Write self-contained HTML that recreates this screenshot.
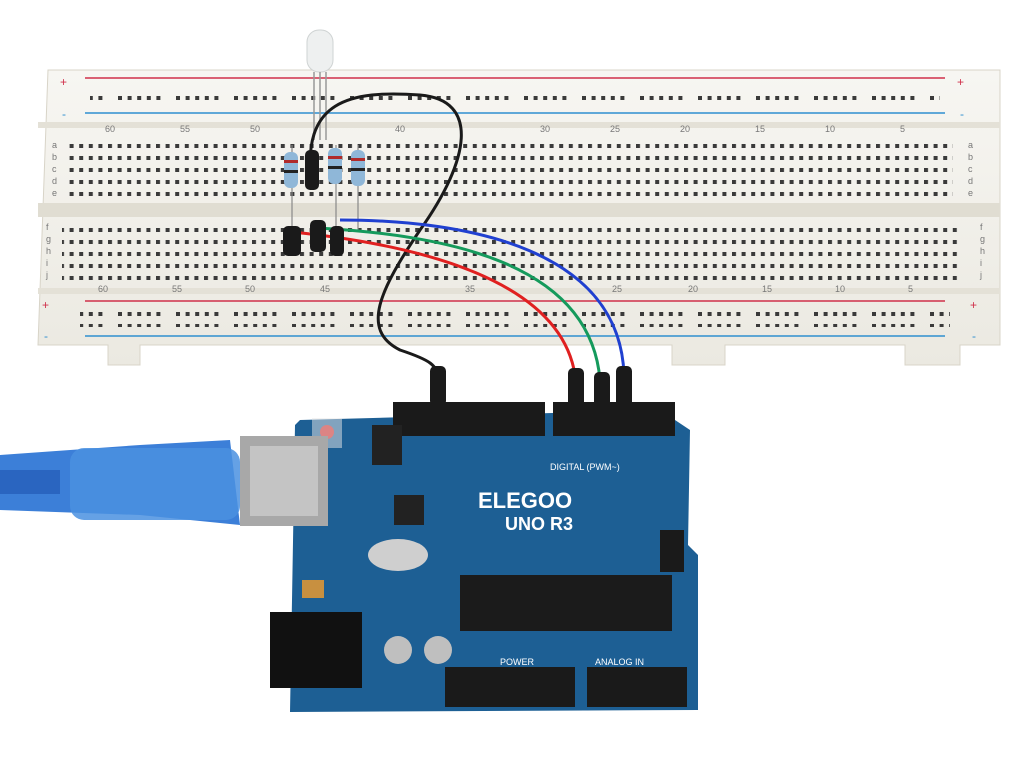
<!DOCTYPE html>
<html><head><meta charset="utf-8"><style>
html,body{margin:0;padding:0;background:#fff;}
svg{display:block}
</style></head><body>
<svg width="1024" height="757" viewBox="0 0 1024 757" xmlns="http://www.w3.org/2000/svg" font-family="Liberation Sans, sans-serif">
<defs>
<pattern id="h5" x="60" y="0" width="58" height="12" patternUnits="userSpaceOnUse">
<rect x="0" y="0" width="4" height="4" fill="#3a3a3a"/><rect x="9.6" y="0" width="4" height="4" fill="#3a3a3a"/><rect x="19.2" y="0" width="4" height="4" fill="#3a3a3a"/><rect x="28.8" y="0" width="4" height="4" fill="#3a3a3a"/><rect x="38.4" y="0" width="4" height="4" fill="#3a3a3a"/>
</pattern>
<pattern id="hm" x="60" y="0" width="9.6" height="12" patternUnits="userSpaceOnUse">
<rect x="0" y="0" width="4" height="4" fill="#3a3a3a"/>
</pattern>
<linearGradient id="bb" x1="0" y1="0" x2="0" y2="1"><stop offset="0" stop-color="#f7f6f2"/><stop offset="1" stop-color="#ebe9e1"/></linearGradient>
</defs>
<path d="M48 70 L1000 70 L1000 345 L960 345 L960 365 L905 365 L905 345 L725 345 L725 365 L672 365 L672 345 L140 345 L140 365 L108 365 L108 345 L38 345 Z" fill="url(#bb)" stroke="#d8d4c8"/>
<rect x="38" y="122" width="962" height="6" fill="#e4e1d7"/>
<rect x="38" y="203" width="962" height="14" fill="#e0ddd2"/>
<rect x="38" y="288" width="962" height="6" fill="#e4e1d7"/>
<line x1="85" y1="78" x2="945" y2="78" stroke="#d0304a" stroke-width="1.5"/>
<line x1="85" y1="113" x2="945" y2="113" stroke="#2f8fd0" stroke-width="1.5"/>
<line x1="85" y1="301" x2="945" y2="301" stroke="#d0304a" stroke-width="1.5"/>
<line x1="85" y1="336" x2="945" y2="336" stroke="#2f8fd0" stroke-width="1.5"/>
<text x="60" y="86" fill="#d0304a" font-size="12">+</text><text x="957" y="86" fill="#d0304a" font-size="12">+</text>
<text x="62" y="118" fill="#2f8fd0" font-size="12">-</text><text x="960" y="118" fill="#2f8fd0" font-size="12">-</text>
<text x="42" y="309" fill="#d0304a" font-size="12">+</text><text x="970" y="309" fill="#d0304a" font-size="12">+</text>
<text x="44" y="340" fill="#2f8fd0" font-size="12">-</text><text x="972" y="340" fill="#2f8fd0" font-size="12">-</text>
<rect x="90" y="90" width="850" height="16" fill="url(#h5)"/>
<rect x="80" y="311" width="870" height="16" fill="url(#h5)"/>
<rect x="68" y="136" width="885" height="60" fill="url(#hm)"/>
<rect x="62" y="222" width="900" height="62" fill="url(#hm)"/>
<g font-size="9" fill="#777">
<text x="52" y="148">a</text><text x="52" y="160">b</text><text x="52" y="172">c</text><text x="52" y="184">d</text><text x="52" y="196">e</text>
<text x="968" y="148">a</text><text x="968" y="160">b</text><text x="968" y="172">c</text><text x="968" y="184">d</text><text x="968" y="196">e</text>
<text x="46" y="230">f</text><text x="46" y="242">g</text><text x="46" y="254">h</text><text x="46" y="266">i</text><text x="46" y="278">j</text>
<text x="980" y="230">f</text><text x="980" y="242">g</text><text x="980" y="254">h</text><text x="980" y="266">i</text><text x="980" y="278">j</text>
<text x="105" y="132">60</text><text x="180" y="132">55</text><text x="250" y="132">50</text><text x="395" y="132">40</text><text x="540" y="132">30</text><text x="610" y="132">25</text><text x="680" y="132">20</text><text x="755" y="132">15</text><text x="825" y="132">10</text><text x="900" y="132">5</text>
<text x="98" y="292">60</text><text x="172" y="292">55</text><text x="245" y="292">50</text><text x="320" y="292">45</text><text x="465" y="292">35</text><text x="612" y="292">25</text><text x="688" y="292">20</text><text x="762" y="292">15</text><text x="835" y="292">10</text><text x="908" y="292">5</text>
</g>
<rect x="307" y="30" width="26" height="42" rx="12" fill="#eef0f0" stroke="#cfd3d3"/>
<line x1="314" y1="72" x2="314" y2="140" stroke="#999" stroke-width="1.5"/>
<line x1="320" y1="72" x2="320" y2="140" stroke="#999" stroke-width="1.5"/>
<line x1="326" y1="72" x2="326" y2="140" stroke="#999" stroke-width="1.5"/>
<g stroke="#888" stroke-width="1.2">
<line x1="292" y1="145" x2="292" y2="232"/><line x1="336" y1="145" x2="336" y2="230"/><line x1="358" y1="145" x2="358" y2="232"/>
</g>
<rect x="284" y="152" width="14" height="36" rx="6" fill="#8fb7d8"/>
<rect x="328" y="148" width="14" height="36" rx="6" fill="#8fb7d8"/>
<rect x="351" y="150" width="14" height="36" rx="6" fill="#8fb7d8"/>
<g fill="#b02a2a"><rect x="284" y="160" width="14" height="3"/><rect x="328" y="156" width="14" height="3"/><rect x="351" y="158" width="14" height="3"/><rect x="284" y="170" width="14" height="3" fill="#222"/><rect x="328" y="166" width="14" height="3" fill="#222"/><rect x="351" y="168" width="14" height="3" fill="#222"/></g>
<path d="M312 185 C300 100 350 90 420 95 C480 100 470 160 420 230 C380 290 360 330 400 350 C430 360 438 365 438 380" fill="none" stroke="#1a1a1a" stroke-width="3"/>
<rect x="305" y="150" width="14" height="40" rx="5" fill="#1a1a1a"/>
<path d="M292 232 C420 245 560 280 575 375" fill="none" stroke="#e02020" stroke-width="3"/>
<path d="M318 228 C440 235 590 260 600 380" fill="none" stroke="#159a5c" stroke-width="3"/>
<path d="M340 220 C470 220 620 250 624 375" fill="none" stroke="#2040d0" stroke-width="3"/>
<g fill="#1a1a1a"><rect x="283" y="226" width="18" height="30" rx="5"/><rect x="310" y="220" width="16" height="32" rx="5"/><rect x="330" y="226" width="14" height="30" rx="5"/>
<rect x="430" y="366" width="16" height="40" rx="5"/><rect x="568" y="368" width="16" height="42" rx="5"/><rect x="594" y="372" width="16" height="40" rx="5"/><rect x="616" y="366" width="16" height="42" rx="5"/></g>
<path d="M300 420 L660 410 L690 430 L688 545 L698 555 L698 710 L290 712 L292 600 L295 425 Z" fill="#1d5f94"/>
<rect x="393" y="402" width="152" height="34" fill="#1a1a1a"/>
<rect x="553" y="402" width="122" height="34" fill="#1a1a1a"/>
<rect x="445" y="667" width="130" height="40" fill="#1a1a1a"/>
<rect x="587" y="667" width="100" height="40" fill="#1a1a1a"/>
<rect x="460" y="575" width="212" height="56" fill="#1b1b1b"/>
<rect x="660" y="530" width="24" height="42" fill="#1a1a1a"/>
<rect x="372" y="425" width="30" height="40" fill="#222"/>
<rect x="394" y="495" width="30" height="30" fill="#222"/>
<ellipse cx="398" cy="555" rx="30" ry="16" fill="#cfcfcf"/>
<circle cx="398" cy="650" r="14" fill="#bfbfbf"/><circle cx="438" cy="650" r="14" fill="#bfbfbf"/>
<rect x="302" y="580" width="22" height="18" fill="#c89040"/>
<rect x="270" y="612" width="92" height="76" fill="#111"/>
<circle cx="327" cy="432" r="7" fill="#d02020"/>
<rect x="312" y="418" width="30" height="30" fill="#e8e8e8" opacity="0.5"/>
<text x="478" y="508" fill="#fff" font-size="22" font-weight="bold">ELEGOO</text>
<text x="505" y="530" fill="#fff" font-size="18" font-weight="bold">UNO R3</text>
<text x="550" y="470" fill="#fff" font-size="9">DIGITAL (PWM~)</text>
<text x="500" y="665" fill="#fff" font-size="9">POWER</text>
<text x="595" y="665" fill="#fff" font-size="9">ANALOG IN</text>
<path d="M0 455 L140 445 L230 440 L240 525 L140 515 L0 510 Z" fill="#3c7fd8"/>
<rect x="0" y="470" width="60" height="24" fill="#2a65c0"/>
<rect x="70" y="448" width="170" height="72" rx="14" fill="#4a90e0" opacity="0.85"/>
<rect x="240" y="436" width="88" height="90" fill="#a8a8a8"/>
<rect x="250" y="446" width="68" height="70" fill="#c4c4c4"/>
</svg>
</body></html>
